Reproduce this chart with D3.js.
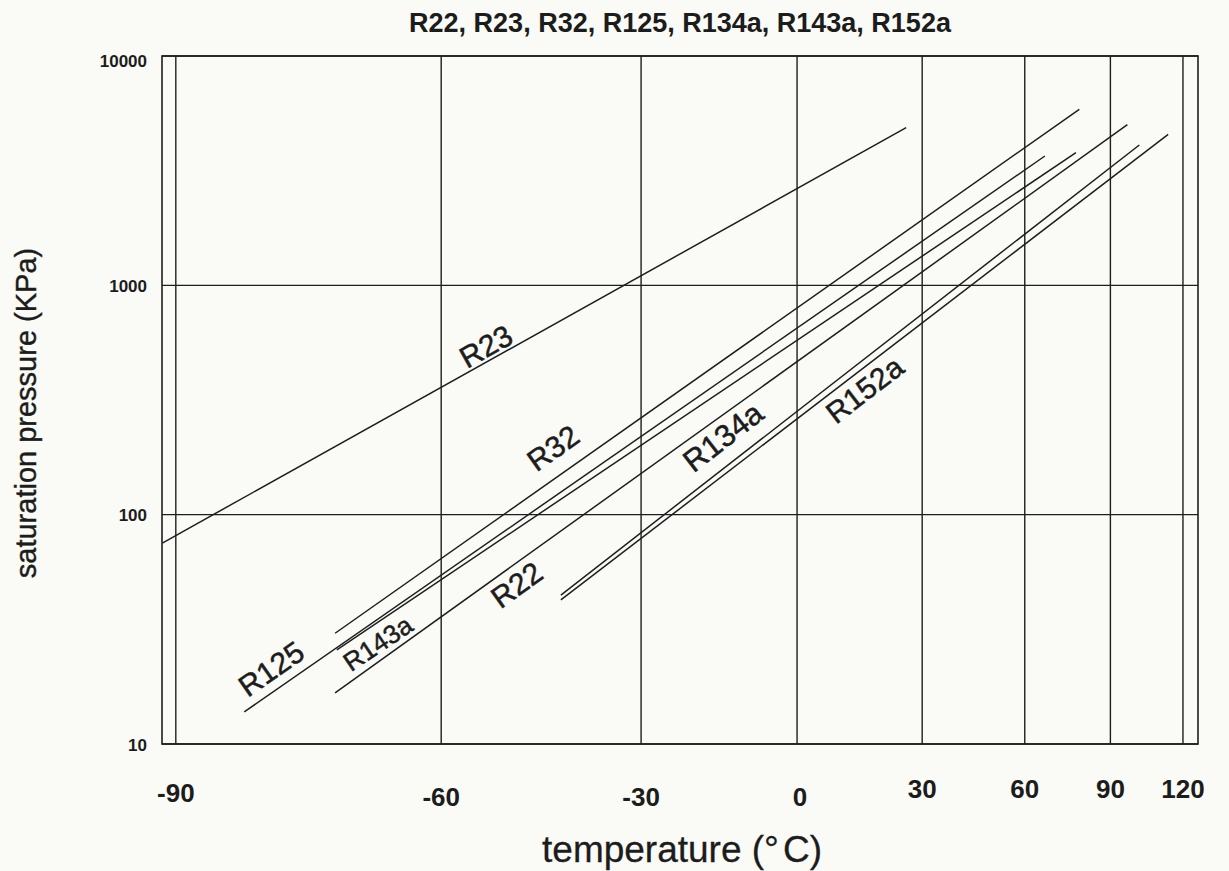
<!DOCTYPE html>
<html>
<head>
<meta charset="utf-8">
<script src="https://cdn.jsdelivr.net/npm/d3@7"></script>
<style>
  html, body { margin: 0; padding: 0; background: #fafaf6; }
  svg { display: block; }
  text { font-family: "Liberation Sans", Arial, Helvetica, sans-serif; fill: #1c1c1c; }
</style>
</head>
<body>
<svg id="chart" width="1229" height="871"></svg>
<script>
// Saturation pressure lines (Clausius-Clapeyron form: log P vs 1/T),
// each drawn between its lowest and highest tabulated state.
const refrigerants = ["R22", "R23", "R32", "R125", "R134a", "R143a", "R152a"];
const tempLow   = [-73.1, -91.3, -73.1, -83.1, -43.0, -72.9, -43.0];   // °C
const presLow   = [16.7, 75.2, 30.4, 13.8, 44.6, 25.7, 42.5];          // kPa
const tempHigh  = [96.6, 25.8, 78.5, 66.6, 101.4, 77.3, 113.5];        // °C
const presHigh  = [5017, 4869, 5856, 3664, 4093, 3788, 4556];          // kPa

const tempTicks = [-90, -60, -30, 0, 30, 60, 90, 120];
const presTicks = [10, 100, 1000, 10000];

const titleText = "R22, R23, R32, R125, R134a, R143a, R152a";
const yTitle = "saturation pressure (KPa)";

// ---- layout ----
const plot = { left: 162, right: 1198, top: 56, bottom: 744 };

const svg = d3.select("#chart");

// Temperature axis is linear in reciprocal absolute temperature (1000/K).
const invScale = d3.scaleLinear().domain([5.5, 2.5]).range([plot.left, plot.right]);
const xPos = t => invScale(1000 / (t + 273.15));
const y = d3.scaleLog().domain([10, 10000]).range([plot.bottom, plot.top]);

const ink = "#1e1e1e";

// vertical grid lines at each tick temperature
svg.append("g").selectAll("line").data(tempTicks).join("line")
  .attr("x1", d => xPos(d)).attr("x2", d => xPos(d))
  .attr("y1", plot.top).attr("y2", plot.bottom)
  .attr("stroke", ink).attr("stroke-width", 1.4);

// horizontal grid lines at each decade
svg.append("g").selectAll("line").data(presTicks).join("line")
  .attr("x1", plot.left).attr("x2", plot.right)
  .attr("y1", d => y(d)).attr("y2", d => y(d))
  .attr("stroke", ink).attr("stroke-width", 1.4);

// frame
svg.append("rect")
  .attr("x", plot.left).attr("y", plot.top)
  .attr("width", plot.right - plot.left).attr("height", plot.bottom - plot.top)
  .attr("fill", "none").attr("stroke", ink).attr("stroke-width", 1.6);

// pressure tick labels
svg.append("g").selectAll("text").data(presTicks).join("text")
  .attr("x", 147).attr("y", d => y(d) + (d === 10000 ? 11 : 6.5))
  .attr("text-anchor", "end")
  .attr("font-size", 17).attr("font-weight", "bold")
  .text(d => d3.format("d")(d));

// temperature tick labels (positive side printed slightly higher)
const tickBase = d => d === -90 ? 802 : (d <= 0 ? 806 : 798);
svg.append("g").selectAll("text").data(tempTicks).join("text")
  .attr("x", d => xPos(d) + (d === 0 ? 3 : 0))
  .attr("y", tickBase)
  .attr("text-anchor", "middle")
  .attr("font-size", 26).attr("font-weight", "bold")
  .text(d => d);

// refrigerant lines
const series = refrigerants.map((name, i) => ({
  name,
  pts: [[tempLow[i], presLow[i]], [tempHigh[i], presHigh[i]]]
}));

const line = d3.line().x(d => xPos(d[0])).y(d => y(d[1]));

svg.append("g").selectAll("path").data(series).join("path")
  .attr("d", d => line(d.pts))
  .attr("fill", "none").attr("stroke", ink).attr("stroke-width", 1.5);

// line labels: temperature of the anchor on the line, perpendicular offset (px, + = below)
const labelPlace = {
  R23:   { t: -53.0, off: -14, size: 30 },
  R32:   { t: -41.9, off: -26, size: 30 },
  R125:  { t: -79.0, off: -20, size: 30 },
  R143a: { t: -69.2, off: 17.5, size: 26 },
  R22:   { t: -51.1, off: 18,  size: 30 },
  R134a: { t: -12.1, off: -25, size: 31 },
  R152a: { t: 12.8,  off: 18,  size: 30 }
};

svg.append("g").selectAll("text").data(series).join("text")
  .each(function (d) {
    const p = labelPlace[d.name];
    const x0 = xPos(d.pts[0][0]), y0 = y(d.pts[0][1]);
    const x1 = xPos(d.pts[1][0]), y1 = y(d.pts[1][1]);
    const ang = Math.atan2(y1 - y0, x1 - x0);
    const xa = xPos(p.t);
    const ya = y0 + (y1 - y0) * (xa - x0) / (x1 - x0);
    // unit normal pointing to the lower-right side of the line
    const nx = -Math.sin(ang), ny = Math.cos(ang);
    const cx = xa + nx * p.off, cy = ya + ny * p.off;
    d3.select(this)
      .attr("transform", `translate(${cx},${cy}) rotate(${ang * 180 / Math.PI})`)
      .attr("text-anchor", "middle")
      .attr("dominant-baseline", "central")
      .attr("font-size", p.size)
      .attr("stroke", "#1c1c1c").attr("stroke-width", 0.5)
      .text(d.name);
  });

// title and axis titles
svg.append("text")
  .attr("x", (plot.left + plot.right) / 2).attr("y", 32)
  .attr("text-anchor", "middle")
  .attr("font-size", 27).attr("font-weight", "bold")
  .text(titleText);

const xt = svg.append("text")
  .attr("x", (plot.left + plot.right) / 2 + 2).attr("y", 862)
  .attr("text-anchor", "middle")
  .attr("font-size", 37)
  .attr("stroke", "#1c1c1c").attr("stroke-width", 0.3);
xt.append("tspan").text("temperature (°");
xt.append("tspan").attr("dx", 4).text("C)");

svg.append("text")
  .attr("transform", `translate(36, ${(plot.top + plot.bottom) / 2 + 13}) rotate(-90)`)
  .attr("text-anchor", "middle")
  .attr("font-size", 29)
  .attr("stroke", "#1c1c1c").attr("stroke-width", 0.4)
  .text(yTitle);
</script>
</body>
</html>
